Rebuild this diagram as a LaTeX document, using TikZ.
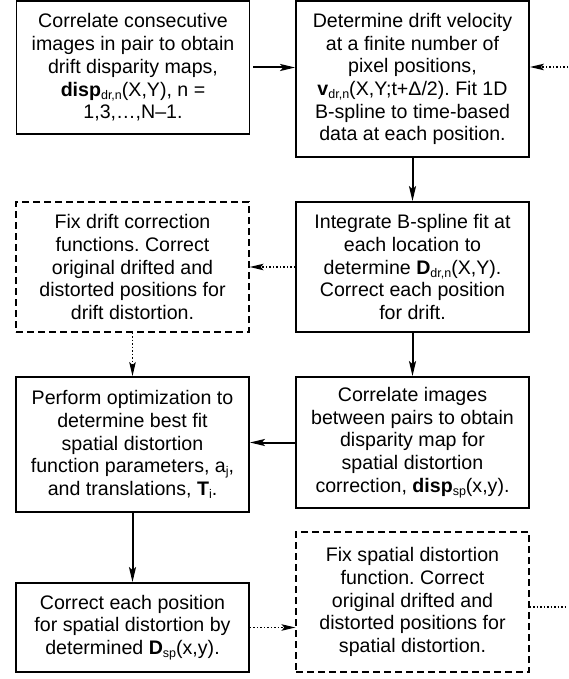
\documentclass[tikz,border=0pt]{standalone}
\usepackage{fontspec}
\setmainfont{Liberation Sans}
\usetikzlibrary{arrows.meta}
\newcommand\sbx[1]{\raisebox{-3pt}{\fontsize{12.5}{13}\selectfont #1}}
\frenchspacing
\begin{document}
\begin{tikzpicture}[x=1pt,y=-1pt,
  box/.style={draw, line width=1.8pt, minimum width=233pt, align=center, inner sep=0pt, font=\fontsize{19.6}{22.7}\selectfont\frenchspacing},
  dbox/.style={box, line width=1.2pt, dash pattern=on 7pt off 4pt},
  arr/.style={line width=2pt, -{Stealth[length=15pt,width=7pt,inset=3pt]}},
  darr/.style={line width=1.4pt, dash pattern=on 1.5pt off 2pt, -{Stealth[length=14pt,width=6.5pt,inset=3pt]}},
  dln/.style={line width=1.4pt, dash pattern=on 1.5pt off 2pt}]
\useasboundingbox (0,0) rectangle (568,679);

\node[box, minimum height=133pt] (A) at (133,67.5)
  {Correlate consecutive\\images in pair to obtain\\drift disparity maps,\\\textbf{disp}\sbx{dr,n}(X,Y), n =\\1,3,…,N–1.};
\node[box, minimum height=156pt] (B) at (412.5,79)
  {Determine drift velocity\\at a finite number of\\pixel positions,\\\textbf{v}\sbx{dr,n}(X,Y;t+Δ/2). Fit 1D\\B-spline to time-based\\data at each position.};
\node[box, minimum height=130pt] (C) at (412.5,267)
  {Integrate B-spline fit at\\each location to\\determine \textbf{D}\sbx{dr,n}(X,Y).\\Correct each position\\for drift.};
\node[dbox, minimum height=130pt] (D) at (132.5,267)
  {Fix drift correction\\functions. Correct\\original drifted and\\distorted positions for\\drift distortion.};
\node[box, minimum height=135pt] (E) at (132.5,444.5)
  {Perform optimization to\\determine best fit\\spatial distortion\\function parameters, a\sbx{j},\\and translations, \textbf{T}\sbx{i}.};
\node[box, minimum height=131pt] (F) at (412.5,442.5)
  {Correlate images\\between pairs to obtain\\disparity map for\\spatial distortion\\correction, \textbf{disp}\sbx{sp}(x,y).};
\node[box, minimum height=89pt] (G) at (132.5,627.5)
  {Correct each position\\for spatial distortion by\\determined \textbf{D}\sbx{sp}(x,y).};
\node[dbox, minimum height=140pt] (H) at (412.5,602)
  {Fix spatial distortion\\function. Correct\\original drifted and\\distorted positions for\\spatial distortion.};

\coordinate (inB) at (568,67);
\coordinate (outH) at (568,607);

\draw[arr] ([xshift=3pt]A.east) -- (A.east -| B.west);
\draw[darr] (inB) -- (inB -| B.east);
\draw[arr] (B.south) -- (C.north);
\draw[darr] (C.west) -- (D.east);
\draw[darr] (D.south) -- (D.south |- E.north);
\draw[arr] (C.south) -- (F.north);
\draw[arr] (F.west) -- (F.west -| E.east);
\draw[arr] (E.south) -- (G.north);
\draw[darr] (G.east) -- (G.east -| H.west);
\draw[dln] (outH -| H.east) -- (outH);
\end{tikzpicture}
\end{document}
